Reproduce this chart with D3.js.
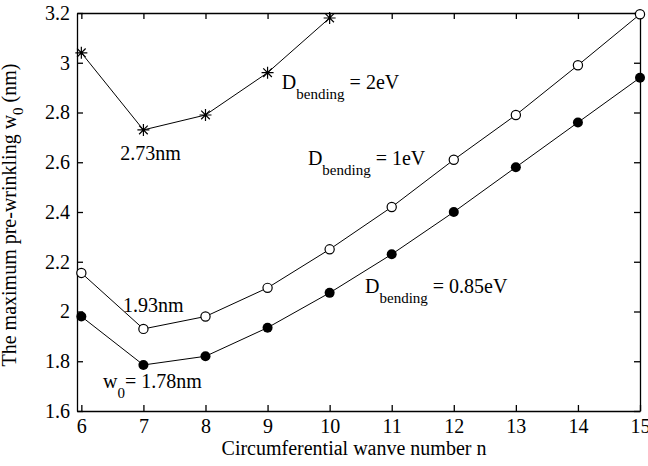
<!DOCTYPE html>
<html>
<head>
<meta charset="utf-8">
<script src="https://cdn.jsdelivr.net/npm/d3@7"></script>
<style>
  body { margin: 0; background: #fff; }
  svg { display: block; font-family: "Liberation Serif", "Times New Roman", serif; }
</style>
</head>
<body>
<svg id="drawing_region"></svg>
<script>
// data
var nAll = [6, 7, 8, 9, 10, 11, 12, 13, 14, 15];
var n2eV = [6, 7, 8, 9, 10];
var w2eV = [3.04, 2.73, 2.79, 2.96, 3.18];
var w1eV = [2.155, 1.93, 1.98, 2.095, 2.25, 2.42, 2.61, 2.79, 2.99, 3.195];
var w085eV = [1.98, 1.785, 1.82, 1.935, 2.075, 2.23, 2.40, 2.58, 2.76, 2.94];

var xTicks = [6, 7, 8, 9, 10, 11, 12, 13, 14, 15];
var yTicks = [1.6, 1.8, 2.0, 2.2, 2.4, 2.6, 2.8, 3.0, 3.2];

var width = 648;
var height = 466;
var margin = {top: 13, right: 8, bottom: 55, left: 77};

var svg = d3.select('#drawing_region')
    .attr('width', width)
    .attr('height', height);

const inner_width = width - margin.left - margin.right;
const inner_height = height - margin.top - margin.bottom;

const xscale = d3.scaleLinear()
      .domain([5.93, 15])
      .range([0, inner_width]);

const yscale = d3.scaleLinear()
      .domain([1.6, 3.2])
      .range([inner_height, 0]);

var chart = svg.append('g')
    .attr('transform', `translate(${margin.left}, ${margin.top})`);

const fmt = d => d3.format('~g')(d);

// axes (ticks point inward, box on all four sides)
const xaxis = d3.axisBottom(xscale).tickValues(xTicks).tickFormat(fmt)
      .tickSizeInner(-6).tickSizeOuter(0).tickPadding(8);
const yaxis = d3.axisLeft(yscale).tickValues(yTicks).tickFormat(fmt)
      .tickSizeInner(-6).tickSizeOuter(0).tickPadding(7);
const xaxisTop = d3.axisTop(xscale).tickValues(xTicks).tickFormat('')
      .tickSizeInner(-6).tickSizeOuter(0);
const yaxisRight = d3.axisRight(yscale).tickValues(yTicks).tickFormat('')
      .tickSizeInner(-6).tickSizeOuter(0);

const axes = [
  chart.append('g').attr('transform', `translate(0, ${inner_height})`).call(xaxis),
  chart.append('g').call(yaxis),
  chart.append('g').call(xaxisTop),
  chart.append('g').attr('transform', `translate(${inner_width}, 0)`).call(yaxisRight)
];
axes.forEach(g => {
  g.selectAll('path, line').attr('stroke', '#000').attr('stroke-width', 1.3);
  g.selectAll('text').attr('fill', '#000').style('font-size', '20px')
    .style('font-family', '"Liberation Serif", "Times New Roman", serif');
});

// lines
const line = d3.line()
      .x(d => xscale(d[0]))
      .y(d => yscale(d[1]));

const s2 = n2eV.map((n, i) => [n, w2eV[i]]);
const s1 = nAll.map((n, i) => [n, w1eV[i]]);
const s085 = nAll.map((n, i) => [n, w085eV[i]]);

[s2, s1, s085].forEach(s => {
  chart.append('path')
    .attr('d', line(s))
    .attr('stroke', '#000')
    .attr('stroke-width', 1)
    .attr('fill', 'none');
});

// asterisk markers
const stars = chart.append('g').selectAll('g').data(s2).join('g')
    .attr('transform', d => `translate(${xscale(d[0])}, ${yscale(d[1])})`);
stars.append('path')
    .attr('d', 'M-6,0L6,0M0,-6L0,6M-4.3,-4.3L4.3,4.3M-4.3,4.3L4.3,-4.3')
    .attr('stroke', '#000')
    .attr('stroke-width', 1.2);

// open circles
chart.append('g').selectAll('circle').data(s1).join('circle')
    .attr('cx', d => xscale(d[0]))
    .attr('cy', d => yscale(d[1]))
    .attr('r', 4.6)
    .attr('fill', '#fff')
    .attr('stroke', '#000')
    .attr('stroke-width', 1.2);

// filled circles
chart.append('g').selectAll('circle').data(s085).join('circle')
    .attr('cx', d => xscale(d[0]))
    .attr('cy', d => yscale(d[1]))
    .attr('r', 5)
    .attr('fill', '#000');

// annotations: [n, w, main, sub, rest]
var notes = [
  [6.625, 2.609, '2.73nm', '', ''],
  [6.67, 1.998, '1.93nm', '', ''],
  [6.35, 1.692, 'w', '0', '= 1.78nm'],
  [9.23, 2.894, 'D', 'bending', ' = 2eV'],
  [9.65, 2.589, 'D', 'bending', ' = 1eV'],
  [10.57, 2.074, 'D', 'bending', ' = 0.85eV']
];

notes.forEach(a => {
  const t = chart.append('text')
    .attr('x', xscale(a[0]))
    .attr('y', yscale(a[1]))
    .style('font-size', '20px')
    .attr('fill', '#000');
  t.append('tspan').text(a[2]);
  if (a[3]) {
    t.append('tspan').attr('dy', 10).style('font-size', '15px').text(a[3]);
    t.append('tspan').attr('dy', -10).text(a[4]);
  }
});

// axis titles
svg.append('text')
    .attr('x', 354)
    .attr('y', 455)
    .attr('text-anchor', 'middle')
    .style('font-size', '20px')
    .text('Circumferential wanve number n');

const ylab = svg.append('text')
    .attr('transform', 'translate(16, 215) rotate(-90)')
    .attr('text-anchor', 'middle')
    .style('font-size', '20px');
ylab.append('tspan').text('The maximum pre-wrinkling w');
ylab.append('tspan').attr('dy', 7).style('font-size', '15px').text('0');
ylab.append('tspan').attr('dy', -7).text(' (nm)');
</script>
</body>
</html>
